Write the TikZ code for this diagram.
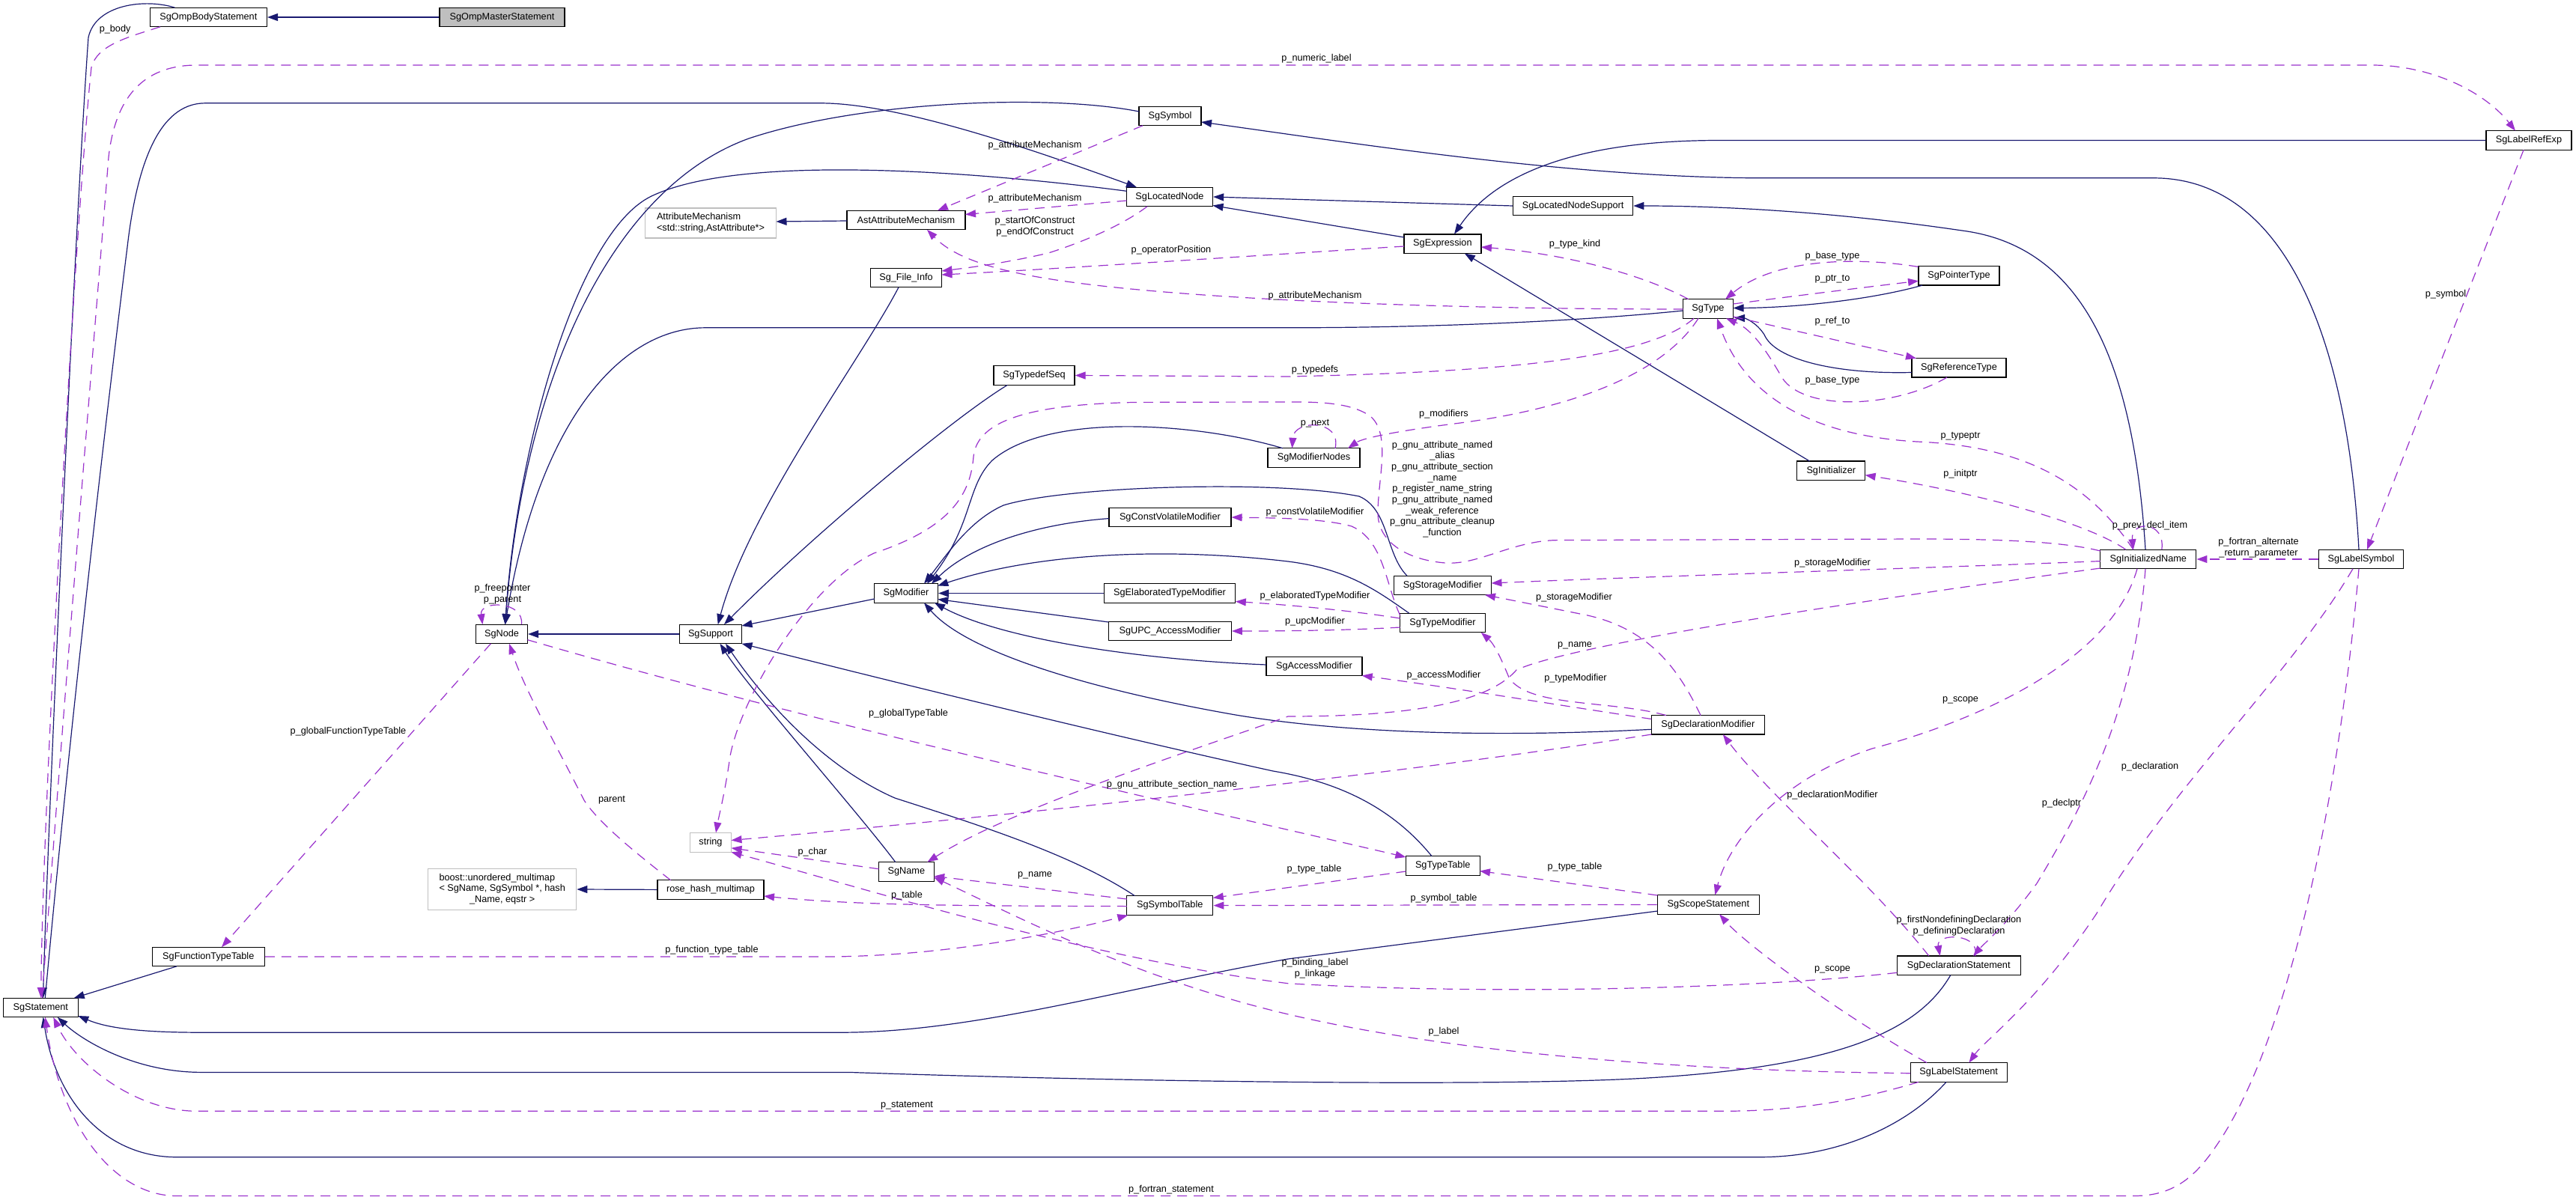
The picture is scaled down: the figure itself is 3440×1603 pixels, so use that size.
\documentclass[tikz,border=0pt]{standalone}
\usepackage{fontspec}
\setmainfont{Liberation Sans}
\usetikzlibrary{arrows.meta,calc}
\definecolor{navyc}{HTML}{191970}
\definecolor{orch}{HTML}{9A32CD}
\definecolor{boxgray}{HTML}{BFBFBF}
\begin{document}
\begin{tikzpicture}[x=1pt,y=-1pt,
  every node/.style={font=\fontsize{12.7}{14.7}\selectfont, inner sep=0pt},
  cls/.style={draw=black, line width=1.3pt, minimum height=25.6pt, fill=white},
  ext/.style={draw=boxgray, line width=1.3pt, minimum height=25.6pt, fill=white},
  inh/.style={draw=navyc, line width=1.2pt, -{Triangle[length=14pt,width=10pt]}},
  use/.style={draw=orch, line width=1.2pt, dash pattern=on 13pt off 9pt, -{Triangle[length=14pt,width=10pt]}},
]
\fill[white] (0,0) rectangle (3440,1603);
\useasboundingbox (0,0) rectangle (3440,1603);

% ---------- class nodes ----------
\node[cls, minimum width=156pt] (ompbody) at (278.4,23) {SgOmpBodyStatement};
\node[cls, fill=boxgray, minimum width=167pt] (ompmaster) at (670.5,23) {SgOmpMasterStatement};
\node[cls, minimum width=83pt] (symbol) at (1562.5,155) {SgSymbol};
\node[cls, minimum width=115pt] (located) at (1562,263) {SgLocatedNode};
\node[cls, minimum width=158pt] (astattr) at (1210,294) {AstAttributeMechanism};
\node[ext, minimum width=175pt, minimum height=40pt, align=left] (attrmech) at (949,298) {AttributeMechanism\\<std::string,AstAttribute*>};
\node[cls, minimum width=95pt] (fileinfo) at (1210,371) {Sg\_File\_Info};
\node[cls, minimum width=108pt] (typedefseq) at (1381,501.5) {SgTypedefSeq};
\node[cls, minimum width=160pt] (locsupport) at (2100.6,275) {SgLocatedNodeSupport};
\node[cls, minimum width=103pt] (expression) at (1926.4,325.7) {SgExpression};
\node[cls, minimum width=67pt] (type) at (2281,412.5) {SgType};
\node[cls, minimum width=108pt] (pointertype) at (2616,368.3) {SgPointerType};
\node[cls, minimum width=126pt] (reftype) at (2616,491.3) {SgReferenceType};
\node[cls, minimum width=114pt] (labelrefexp) at (3377,187.5) {SgLabelRefExp};
\node[cls, minimum width=69pt] (sgnode) at (670,847) {SgNode};
\node[cls, minimum width=83pt] (support) at (949,847) {SgSupport};
\node[cls, minimum width=85pt] (modifier) at (1210,792.5) {SgModifier};
\node[cls, minimum width=163pt] (cvmod) at (1562.4,691) {SgConstVolatileModifier};
\node[cls, minimum width=175pt] (etmod) at (1562,792.5) {SgElaboratedTypeModifier};
\node[cls, minimum width=164pt] (upcmod) at (1562.3,843) {SgUPC\_AccessModifier};
\node[cls, minimum width=128pt] (accmod) at (1755,890) {SgAccessModifier};
\node[cls, minimum width=123pt] (modnodes) at (1754.5,611.6) {SgModifierNodes};
\node[cls, minimum width=130pt] (storagemod) at (1926.5,782) {SgStorageModifier};
\node[cls, minimum width=114pt] (typemod) at (1926.5,832) {SgTypeModifier};
\node[cls, minimum width=91pt] (initializer) at (2445.3,628.8) {SgInitializer};
\node[cls, minimum width=151pt] (declmod) at (2280.8,968.3) {SgDeclarationModifier};
\node[cls, minimum width=128pt] (initname) at (2868.8,747) {SgInitializedName};
\node[cls, minimum width=113pt] (labelsym) at (3153,747) {SgLabelSymbol};
\node[cls, minimum width=100pt] (statement) at (54.3,1346) {SgStatement};
\node[cls, minimum width=150pt] (functt) at (278.3,1278) {SgFunctionTypeTable};
\node[ext, minimum width=198pt, minimum height=55pt] (boostmm) at (670.7,1188) {\begin{tabular}{@{}l@{}}boost::unordered\_multimap\\< SgName, SgSymbol *, hash\\\multicolumn{1}{@{}c@{}}{\_Name, eqstr >}\end{tabular}};
\node[ext, minimum width=55pt] (string) at (949,1125.5) {string};
\node[cls, minimum width=142pt] (rosehash) at (949,1188.4) {rose\_hash\_multimap};
\node[cls, minimum width=74pt] (sgname) at (1210.4,1164.4) {SgName};
\node[cls, minimum width=115pt] (symtab) at (1562.3,1209.6) {SgSymbolTable};
\node[cls, minimum width=99pt] (typetable) at (1926.7,1156.5) {SgTypeTable};
\node[cls, minimum width=136pt] (scopestmt) at (2281.3,1208.4) {SgScopeStatement};
\node[cls, minimum width=165pt] (declstmt) at (2615.7,1289.8) {SgDeclarationStatement};
\node[cls, minimum width=129pt] (labelstmt) at (2615.7,1432.4) {SgLabelStatement};

% ---------- inheritance edges ----------
\draw[inh] (ompmaster.west) -- (ompbody.east);
\draw[inh] ($(ompbody.center)+(-45,-12.8)$) .. controls (195,-2) and (128,5) .. (118,50) .. controls (100,300) and (62,1150) .. ($(statement.center)+(3.3,-12.8)$);
\draw[inh] ($(statement.center)+(6,-12.8)$) .. controls (100,900) and (155,450) .. (170,330) .. controls (185,200) and (220,137.8) .. (274,137.8) -- (1096,137.8) .. controls (1200,137.8) and (1380,200) .. ($(located.center)+(-44,-12.8)$);
\draw[inh] ($(symbol.center)+(-41.5,-6)$) .. controls (1400,125) and (1150,135) .. (1000,185) .. controls (820,250) and (700,500) .. ($(sgnode.center)+(4.6,-12.8)$);
\draw[inh] ($(located.center)+(-57.5,-7.7)$) .. controls (1350,235) and (1000,200) .. (870,262) .. controls (770,310) and (690,600) .. ($(sgnode.center)+(4.6,-12.8)$);
\draw[inh] ($(type.center)+(-33.5,2.5)$) .. controls (2100,430) and (1900,437.8) .. (1720,437.8) -- (942,437.8) .. controls (830,437.8) and (720,560) .. ($(sgnode.center)+(4.6,-12.8)$);
\draw[inh] (support.west) -- (sgnode.east);
\draw[inh] ($(astattr.center)+(-79,1)$) -- ($(attrmech.center)+(87.5,-2)$);
\draw[inh] ($(fileinfo.center)+(-10,12.8)$) .. controls (1150,480) and (1000,680) .. ($(support.center)+(9.7,-12.8)$);
\draw[inh] ($(typedefseq.center)+(-35.6,12.8)$) .. controls (1270,560) and (1080,720) .. ($(support.center)+(18,-12.8)$);
\draw[inh] ($(modifier.center)+(-42.3,7.5)$) -- ($(support.center)+(41.5,-11)$);
\draw[inh] ($(typetable.center)+(-14.7,-12.8)$) .. controls (1860,1080) and (1790,1045) .. (1700,1030) .. controls (1450,975) and (1150,900) .. ($(support.center)+(41.5,12.8)$);
\draw[inh] ($(sgname.center)+(-14.7,-12.8)$) .. controls (1150,1090) and (1000,920) .. ($(support.center)+(12.5,12.8)$);
\draw[inh] ($(symtab.center)+(-47,-13)$) .. controls (1430,1140) and (1300,1100) .. (1195,1066) .. controls (1090,1020) and (1010,920) .. ($(support.center)+(20,12.8)$);
\draw[inh] ($(modnodes.center)+(-41.5,-12.8)$) .. controls (1600,565) and (1400,550) .. (1325,615) .. controls (1290,650) and (1300,700) .. ($(modifier.center)+(28,-12.8)$);
\draw[inh] ($(storagemod.center)+(-47.5,-12.8)$) .. controls (1850,740) and (1855,680) .. (1815,663) .. controls (1700,640) and (1420,650) .. (1340,675) .. controls (1295,695) and (1265,740) .. ($(modifier.center)+(24,-12.8)$);
\draw[inh] ($(cvmod.center)+(-81.4,1.6)$) .. controls (1380,700) and (1295,730) .. ($(modifier.center)+(34,-12.8)$);
\draw[inh] ($(typemod.center)+(-44.7,-12.8)$) .. controls (1840,790) and (1800,760) .. (1720,750) .. controls (1550,730) and (1380,740) .. ($(modifier.center)+(42.3,-10)$);
\draw[inh] (etmod.west) -- (modifier.east);
\draw[inh] ($(upcmod.center)+(-82,-12)$) -- ($(modifier.center)+(42.3,8)$);
\draw[inh] ($(accmod.center)+(-64,-2)$) .. controls (1500,880) and (1330,850) .. ($(modifier.center)+(38,12.8)$);
\draw[inh] ($(declmod.center)+(-75.5,6)$) .. controls (2000,985) and (1800,980) .. (1650,955) .. controls (1450,920) and (1290,870) .. ($(modifier.center)+(24,12.8)$);
\draw[inh] (locsupport.west) -- (located.east);
\draw[inh] ($(expression.center)+(-51.5,-8.7)$) -- ($(located.center)+(57.5,11.5)$);
\draw[inh] ($(labelsym.center)+(-3,-12.8)$) .. controls (3135,450) and (3050,237.8) .. (2876,237.8) -- (2356,237.8) .. controls (2100,237.8) and (1800,190) .. ($(symbol.center)+(41.5,8)$);
\draw[inh] (labelrefexp.west) -- (2296,187.5) .. controls (2100,187.5) and (1995,235) .. ($(expression.center)+(15.6,-13)$);
\draw[inh] ($(initname.center)+(-3.8,-12.8)$) .. controls (2850,500) and (2790,330) .. (2620,308) .. controls (2450,283) and (2300,275) .. (locsupport.east);
\draw[inh] ($(initializer.center)+(-28.8,-12.8)$) -- ($(expression.center)+(29.4,12.8)$);
\draw[inh] ($(pointertype.center)+(-49,12.8)$) .. controls (2500,400) and (2400,411) .. ($(type.center)+(33.5,-1)$);
\draw[inh] ($(reftype.center)+(-63,6.2)$) .. controls (2450,500) and (2370,480) .. (2356,447) .. controls (2345,430) and (2330,425) .. ($(type.center)+(35,12)$);
\draw[inh] ($(scopestmt.center)+(-67.8,8.6)$) -- (1720,1281) .. controls (1500,1320) and (1300,1379.2) .. (1123,1379.2) -- (268.7,1379.2) .. controls (180,1379.2) and (140,1372) .. ($(statement.center)+(50,11)$);
\draw[inh] ($(declstmt.center)+(-11,12.9)$) .. controls (2560,1380) and (2450,1425) .. (2200,1440) .. controls (2000,1452) and (1500,1445) .. (1134,1432.4) -- (268.7,1432.4) .. controls (180,1432.4) and (110,1390) .. ($(statement.center)+(22.5,12.8)$);
\draw[inh] ($(labelstmt.center)+(-16.7,13)$) .. controls (2550,1500) and (2460,1545.7) .. (2350,1545.7) -- (235.8,1545.7) .. controls (140,1545.7) and (75,1470) .. ($(statement.center)+(3.3,12.8)$);
\draw[inh] ($(functt.center)+(-42.3,12.8)$) -- ($(statement.center)+(44.4,-12.8)$);
\draw[inh] (rosehash.west) -- (boostmm.east);

% ---------- usage edges ----------
\draw[use] ($(ompbody.center)+(-64.4,12.8)$) .. controls (170,50) and (130,60) .. (122,90) .. controls (100,300) and (56,1100) .. ($(statement.center)+(0.5,-12.8)$);
\draw[use] ($(statement.center)+(2,-12.8)$) .. controls (80,1000) and (130,400) .. (145,210) .. controls (155,120) and (200,87) .. (263,87) -- (3167,87) .. controls (3250,87) and (3320,125) .. ($(labelrefexp.center)+(-18,-12.8)$);
\draw[use] ($(type.center)+(-26.3,-12.8)$) .. controls (2200,370) and (2100,340) .. ($(expression.center)+(51.5,4.3)$);
\draw[use] ($(pointertype.center)+(-54,-11.8)$) .. controls (2480,343) and (2370,345) .. ($(type.center)+(23,-12.8)$);
\draw[use] ($(type.center)+(33.5,-6.5)$) .. controls (2400,395) and (2480,385) .. ($(pointertype.center)+(-54,7)$);
\draw[use] ($(type.center)+(33.5,10.5)$) -- ($(reftype.center)+(-57,-12.6)$);
\draw[use] ($(reftype.center)+(-16,12.8)$) .. controls (2530,545) and (2410,550) .. (2380,505) .. controls (2360,470) and (2340,440) .. ($(type.center)+(24,12.8)$);
\draw[use] ($(initname.center)+(-20,-12.8)$) .. controls (2780,630) and (2680,595) .. (2560,590) .. controls (2420,582) and (2330,530) .. ($(type.center)+(12,12.8)$);
\draw[use] ($(type.center)+(-13,12.8)$) .. controls (2220,500) and (2100,545) .. (1950,565) .. controls (1870,575) and (1820,585) .. ($(modnodes.center)+(45.5,-12.8)$);
\draw[use] ($(type.center)+(-19,12.8)$) .. controls (2200,480) and (2000,497) .. (1720,503) -- (typedefseq.east);
\draw[use] ($(modnodes.center)+(28.5,-12.8)$) .. controls (1792,560) and (1728,560) .. ($(modnodes.center)+(-29,-12.8)$);
\draw[use] ($(initname.center)+(-64,-11)$) .. controls (2750,722) and (2650,720) .. (2560,720) -- (2080,721.6) .. controls (2020,722) and (1975,755) .. (1930,752) .. controls (1880,748) and (1840,725) .. (1840,685) .. controls (1840,640) and (1858,580) .. (1830,556) .. controls (1800,535) and (1750,537) .. (1700,537) -- (1518,537.4) .. controls (1380,540) and (1305,560) .. (1300,610) .. controls (1296,660) and (1270,705) .. (1167,739) .. controls (1080,780) and (990,930) .. (975,1010) .. controls (968,1060) and (960,1090) .. ($(string.center)+(7,-13)$);
\draw[use] ($(typemod.center)+(-56.8,-10)$) .. controls (1850,780) and (1848,722) .. (1805,703) .. controls (1765,692) and (1700,692) .. (cvmod.east);
\draw[use] ($(typemod.center)+(-56.8,-6)$) .. controls (1800,815) and (1720,808) .. ($(etmod.center)+(87.8,11)$);
\draw[use] ($(typemod.center)+(-56.8,6)$) .. controls (1800,842) and (1720,843) .. (upcmod.east);
\draw[use] ($(initname.center)+(-64,2.6)$) .. controls (2600,758) and (2200,770) .. ($(storagemod.center)+(65,-3)$);
\draw[use] ($(declmod.center)+(-9.8,-12.8)$) .. controls (2240,890) and (2200,840) .. (2120,822) .. controls (2060,810) and (2010,800) .. ($(storagemod.center)+(56.5,12.8)$);
\draw[use] ($(initname.center)+(-64,12)$) .. controls (2500,800) and (2100,860) .. (2025,895) .. controls (1990,935) and (1900,957) .. (1720,957) .. controls (1600,1000) and (1350,1080) .. ($(sgname.center)+(28,-12.8)$);
\draw[use] ($(declmod.center)+(-56,-12.8)$) .. controls (2150,935) and (2040,945) .. (2015,905) .. controls (2005,880) and (1995,860) .. ($(typemod.center)+(51.3,12.8)$);
\draw[use] ($(declmod.center)+(-75.5,-7.8)$) .. controls (2100,945) and (1950,920) .. ($(accmod.center)+(63.7,12.5)$);
\draw[use] ($(declstmt.center)+(-40,-13)$) .. controls (2500,1180) and (2360,1060) .. ($(declmod.center)+(20,12.8)$);
\draw[use] ($(initname.center)+(-14.8,12.8)$) .. controls (2820,880) and (2650,960) .. (2500,1000) .. controls (2380,1040) and (2310,1120) .. ($(scopestmt.center)+(9,-12.8)$);
\draw[use] ($(initname.center)+(-3.8,12.8)$) .. controls (2850,950) and (2780,1080) .. (2720,1180) .. controls (2680,1235) and (2650,1260) .. ($(declstmt.center)+(19.3,-12.8)$);
\draw[use] ($(labelsym.center)+(-11,12.8)$) .. controls (3060,900) and (2900,1050) .. (2800,1220) .. controls (2720,1340) and (2650,1390) .. ($(labelstmt.center)+(13.7,-12.8)$);
\draw[use] (labelsym.west) -- (initname.east);
\draw[use] ($(labelrefexp.center)+(-7,12.8)$) -- ($(labelsym.center)+(8,-12.8)$);
\draw[use] ($(initname.center)+(18,-12.8)$) .. controls (2892,695) and (2845,695) .. ($(initname.center)+(-20,-12.8)$);
\draw[use] ($(initname.center)+(-30,-12.8)$) .. controls (2790,700) and (2650,660) .. ($(initializer.center)+(45.3,5.8)$);
\draw[use] ($(labelsym.center)+(-3,12.8)$) .. controls (3120,1100) and (3050,1400) .. (2960,1530) .. controls (2930,1575) and (2900,1597.5) .. (2850,1597.5) -- (236,1597.5) .. controls (150,1597.5) and (80,1500) .. ($(statement.center)+(6,12.8)$);
\draw[use] ($(labelstmt.center)+(-53.7,13)$) .. controls (2480,1470) and (2400,1484.3) .. (2300,1484.3) -- (263,1484.3) .. controls (180,1484.3) and (100,1420) .. ($(statement.center)+(17,12.8)$);
\draw[use] ($(sgnode.center)+(-14.6,12.8)$) -- ($(functt.center)+(17.7,-12.8)$);
\draw[use] ($(rosehash.center)+(-53.4,-12.6)$) .. controls (850,1140) and (800,1100) .. (780,1069) .. controls (740,990) and (700,920) .. ($(sgnode.center)+(10,12.8)$);
\draw[use] ($(sgnode.center)+(34.5,7.7)$) .. controls (1100,970) and (1600,1080) .. ($(typetable.center)+(-49.3,-11.5)$);
\draw[use] ($(declmod.center)+(-75.5,12.7)$) .. controls (1900,1030) and (1400,1085) .. ($(string.center)+(27.5,-3)$);
\draw[use] ($(sgname.center)+(-36.8,-3.6)$) -- ($(string.center)+(27.5,7.3)$);
\draw[use] ($(declstmt.center)+(-82.3,9.5)$) .. controls (2350,1320) and (2000,1330) .. (1720,1313.7) .. controls (1450,1280) and (1130,1180) .. ($(string.center)+(27.5,12.8)$);
\draw[use] ($(labelstmt.center)+(-64.5,1.3)$) .. controls (2200,1430) and (1900,1400) .. (1700,1350) .. controls (1500,1300) and (1350,1220) .. ($(sgname.center)+(36.8,7.6)$);
\draw[use] ($(labelstmt.center)+(-42.7,-12.8)$) .. controls (2450,1350) and (2330,1260) .. ($(scopestmt.center)+(14.7,12.8)$);
\draw[use] ($(scopestmt.center)+(-67.8,-12.4)$) -- ($(typetable.center)+(49.3,7)$);
\draw[use] ($(typetable.center)+(-49.3,7.5)$) -- ($(symtab.center)+(57.5,-10.2)$);
\draw[use] (scopestmt.west) -- (symtab.east);
\draw[use] (functt.east) -- (1100,1278) .. controls (1250,1278) and (1400,1250) .. ($(symtab.center)+(-56,13)$);
\draw[use] ($(symtab.center)+(-57.5,-8.6)$) -- ($(sgname.center)+(36.8,6)$);
\draw[use] ($(symtab.center)+(-57.5,1)$) .. controls (1300,1210) and (1150,1210) .. ($(rosehash.center)+(71,8.6)$);
\draw[use] ($(declstmt.center)+(22,-12.8)$) .. controls (2645,1246) and (2585,1246) .. ($(declstmt.center)+(-25,-12.8)$);
\draw[use] ($(sgnode.center)+(26.5,-12.8)$) .. controls (700,802) and (640,802) .. ($(sgnode.center)+(-25.6,-12.8)$);
\draw[use] ($(symbol.center)+(-36.5,12.8)$) -- ($(astattr.center)+(42,-12.8)$);
\draw[use] ($(located.center)+(-57.5,5)$) -- ($(astattr.center)+(79,-7.5)$);
\draw[use] ($(located.center)+(-30,12.8)$) .. controls (1500,300) and (1450,322) .. (1400,338) .. controls (1340,352) and (1290,358) .. ($(fileinfo.center)+(47.5,-9)$);
\draw[use] ($(expression.center)+(-51.5,3.3)$) .. controls (1700,340) and (1400,360) .. ($(fileinfo.center)+(47.5,-4)$);
\draw[use] ($(type.center)+(-33.5,0.5)$) .. controls (2000,413) and (1700,405) .. (1500,385) .. controls (1350,370) and (1280,350) .. ($(astattr.center)+(28,12.8)$);

% ---------- edge labels ----------
\node (l1) at (153.6,39.2) {p\_body};
\node (l2) at (1758,78.5) {p\_numeric\_label};
\node (l3) at (1382,194.5) {p\_attributeMechanism};
\node (l4) at (1382,265.5) {p\_attributeMechanism};
\node[align=center] (l5) at (1382,303) {p\_startOfConstruct\\p\_endOfConstruct};
\node (l6) at (1564,334.4) {p\_operatorPosition};
\node (l7) at (1756,394.8) {p\_attributeMechanism};
\node (l8) at (2103,326.5) {p\_type\_kind};
\node (l9) at (2447,342.2) {p\_base\_type};
\node (l10) at (2447,372.6) {p\_ptr\_to};
\node (l11) at (2447,429) {p\_ref\_to};
\node (l12) at (2447,508.4) {p\_base\_type};
\node (l13) at (1756,494) {p\_typedefs};
\node (l14) at (3266,393) {p\_symbol};
\node (l15) at (1928,552.8) {p\_modifiers};
\node (l16) at (1756,565.7) {p\_next};
\node[align=center] (l17) at (1926,653.5) {p\_gnu\_attribute\_named\\\_alias\\p\_gnu\_attribute\_section\\\_name\\p\_register\_name\_string\\p\_gnu\_attribute\_named\\\_weak\_reference\\p\_gnu\_attribute\_cleanup\\\_function};
\node (l18) at (1756,684) {p\_constVolatileModifier};
\node (l19) at (1756,796.7) {p\_elaboratedTypeModifier};
\node (l20) at (1756,830) {p\_upcModifier};
\node (l21) at (2618,582.8) {p\_typeptr};
\node (l22) at (2618,633.6) {p\_initptr};
\node (l23) at (2871,701.9) {p\_prev\_decl\_item};
\node[align=center] (l24) at (3016,731.8) {p\_fortran\_alternate\\\_return\_parameter};
\node (l25) at (2447,752.4) {p\_storageModifier};
\node (l26) at (2102,798.4) {p\_storageModifier};
\node (l27) at (2103,862) {p\_name};
\node (l28) at (1928,902.5) {p\_accessModifier};
\node (l29) at (2104,906) {p\_typeModifier};
\node[align=center] (l30) at (671,794) {p\_freepointer\\p\_parent};
\node (l31) at (1213,953) {p\_globalTypeTable};
\node (l32) at (2618,935) {p\_scope};
\node (l33) at (2871,1024) {p\_declaration};
\node (l34) at (465,977.5) {p\_globalFunctionTypeTable};
\node (l35) at (1565,1048.5) {p\_gnu\_attribute\_section\_name};
\node (l36) at (2447,1062) {p\_declarationModifier};
\node (l37) at (2753,1073) {p\_declptr};
\node (l38) at (817,1069) {parent};
\node (l39) at (1085,1138.6) {p\_char};
\node (l40) at (2103,1158.4) {p\_type\_table};
\node (l41) at (1755,1161) {p\_type\_table};
\node (l42) at (1382,1169.7) {p\_name};
\node (l43) at (1211,1196.6) {p\_table};
\node (l44) at (1928,1200.4) {p\_symbol\_table};
\node[align=center] (l45) at (2616,1237) {p\_firstNondefiningDeclaration\\p\_definingDeclaration};
\node (l46) at (950.5,1269.3) {p\_function\_type\_table};
\node[align=center] (l47) at (1756,1294) {p\_binding\_label\\p\_linkage};
\node (l48) at (2447,1295) {p\_scope};
\node (l49) at (1928,1377.8) {p\_label};
\node (l50) at (1211,1476.4) {p\_statement};
\node (l51) at (1564,1589.3) {p\_fortran\_statement};
\end{tikzpicture}
\end{document}
